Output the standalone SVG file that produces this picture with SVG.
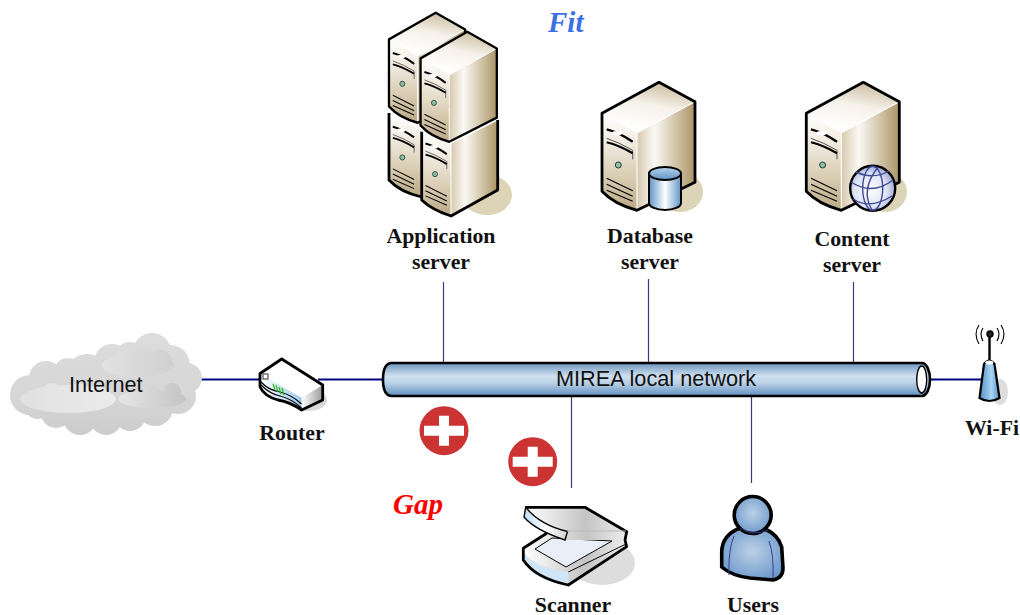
<svg xmlns="http://www.w3.org/2000/svg" width="1020" height="615" viewBox="0 0 1020 615">
<style>
.lbl{font-family:"Liberation Serif",serif;font-weight:bold;font-size:21.8px;fill:#111;text-anchor:middle}
.san{font-family:"Liberation Sans",sans-serif;font-size:21.7px;fill:#111}
.ital{font-family:"Liberation Serif",serif;font-style:italic;font-weight:bold;font-size:29px}
.trunk{stroke:#000080;stroke-width:2;fill:none}
.drop{stroke:#3a3a80;stroke-width:1.2;fill:none}
.front{fill:url(#gFront)}
.right{fill:url(#gRight)}
.top{fill:url(#gTop)}
.ol{fill:none;stroke:#000;stroke-width:2.8;stroke-linejoin:round}
.edge{fill:none;stroke:#fff;stroke-width:1.1}
.sh{fill:#ddd3b6}
.blk{fill:none;stroke:#000;stroke-width:1.2}
</style>
<defs>
<linearGradient id="gFront" x1="0" y1="0" x2="0" y2="1"><stop offset="0" stop-color="#fff"/><stop offset=".25" stop-color="#f4efe5"/><stop offset=".65" stop-color="#d9cdb4"/><stop offset="1" stop-color="#bba985"/></linearGradient>
<linearGradient id="gRight" x1="0" y1="0" x2="1" y2="0"><stop offset="0" stop-color="#d5c8ad"/><stop offset=".3" stop-color="#fbf9f5"/><stop offset=".65" stop-color="#d3c7ab"/><stop offset="1" stop-color="#ab9468"/></linearGradient>
<linearGradient id="gTop" x1=".4" y1=".9" x2=".7" y2="0"><stop offset="0" stop-color="#fff"/><stop offset=".5" stop-color="#f5f1e9"/><stop offset="1" stop-color="#c9bb9c"/></linearGradient>
<linearGradient id="gTube" x1="0" y1="0" x2="0" y2="1"><stop offset="0" stop-color="#6d96bf"/><stop offset=".4" stop-color="#cfe0ef"/><stop offset=".6" stop-color="#bcd2e6"/><stop offset="1" stop-color="#5f8fc0"/></linearGradient>
<linearGradient id="gCyl" x1="0" y1="0" x2="1" y2="0"><stop offset="0" stop-color="#5f94c6"/><stop offset=".5" stop-color="#fff"/><stop offset="1" stop-color="#5f94c6"/></linearGradient>
<linearGradient id="gCylTop" x1="0" y1="0" x2="0" y2="1"><stop offset="0" stop-color="#b9d3ea"/><stop offset="1" stop-color="#5f94c6"/></linearGradient>
<radialGradient id="gGlobe" cx=".45" cy=".55" r=".6"><stop offset="0" stop-color="#fff"/><stop offset=".6" stop-color="#dfe4f4"/><stop offset="1" stop-color="#8f9ccf"/></radialGradient>
<radialGradient id="gUser" cx=".5" cy=".45" r=".65"><stop offset="0" stop-color="#bcd0e6"/><stop offset="1" stop-color="#6594c8"/></radialGradient>
<linearGradient id="gCloud" gradientUnits="userSpaceOnUse" x1="0" y1="335" x2="0" y2="436"><stop offset="0" stop-color="#dcdcdc"/><stop offset=".6" stop-color="#d6d6d6"/><stop offset="1" stop-color="#cccccc"/></linearGradient>
<linearGradient id="gCloud2" gradientUnits="userSpaceOnUse" x1="20" y1="0" x2="118" y2="0"><stop offset="0" stop-color="#e0e0e0"/><stop offset="1" stop-color="#ebebeb"/></linearGradient>
<linearGradient id="gCloud3" gradientUnits="userSpaceOnUse" x1="118" y1="0" x2="190" y2="0"><stop offset="0" stop-color="#e6e6e6"/><stop offset="1" stop-color="#c2c2c2"/></linearGradient>
<linearGradient id="gCloud4" gradientUnits="userSpaceOnUse" x1="102" y1="0" x2="176" y2="0"><stop offset="0" stop-color="#e2e2e2"/><stop offset="1" stop-color="#cfcfcf"/></linearGradient>
<linearGradient id="gRtFront" x1="0" y1="0" x2="1" y2="0"><stop offset="0" stop-color="#fff"/><stop offset="1" stop-color="#9fc9ea"/></linearGradient>
<linearGradient id="gRtRight" x1="0" y1="0" x2="1" y2="0"><stop offset="0" stop-color="#fff"/><stop offset="1" stop-color="#9a9a9a"/></linearGradient>
<linearGradient id="gWifi" x1="0" y1="0" x2="1" y2="0"><stop offset="0" stop-color="#4f8fc9"/><stop offset=".6" stop-color="#a9d5f3"/><stop offset="1" stop-color="#4f8fc9"/></linearGradient>
<linearGradient id="gScan" x1="0" y1="0" x2="1" y2="0"><stop offset="0" stop-color="#bcdcf5"/><stop offset=".5" stop-color="#fff"/><stop offset="1" stop-color="#d0d0d0"/></linearGradient>
<linearGradient id="gScan2" x1="0" y1="0" x2="1" y2="0"><stop offset="0" stop-color="#fff"/><stop offset=".6" stop-color="#c4c4c4"/><stop offset="1" stop-color="#eee"/></linearGradient>
<g id="details">
<path d="M-52.3,47 Q-40,50 -26.3,59.4" fill="none" stroke="#000" stroke-width="2.4"/>
<ellipse cx="-42" cy="51" rx="5" ry="2.2" fill="#fff"/>
<path d="M-52.3,56 Q-40,60 -26.3,68 V77" fill="none" stroke="#555" stroke-width="1"/>
<path d="M-52.3,60 Q-40,63 -26.3,71" fill="none" stroke="#000" stroke-width="2.2"/>
<circle cx="-40.7" cy="82.7" r="3" fill="#8dc0a4" stroke="#22403a" stroke-width="1"/>
<path class="blk" d="M-52.3,96 L-26.3,108.4M-52.3,102 L-26.3,114M-52.3,108 L-26.3,119"/>
</g>
<g id="srv">
<path class="top" d="M0,0 L36,19.5 L-22,50.5 L-57,31Z"/>
<path class="front" d="M-57,31 L-22,50.5 L-22,128 Q-45,122 -57,109Z"/>
<path class="right" d="M-22,50.5 L36,19.5 L36,100 L-22,128Z"/>
<path class="edge" d="M-22,128 V50.5 L36,19.5"/>
<use href="#details"/>
<path class="ol" d="M-57,31 L0,0 L36,19.5 V100 L-22,128 Q-45,122 -57,109Z"/>
</g>
</defs>

<g id="connectors">
<path class="trunk" d="M201,379.5H262M318,379.5H384M929,379.5H984"/>
<path class="drop" d="M443.5,282V363M648.5,279V363M853.5,282V363M571.5,396V488M751.5,396V483"/>
</g>

<g id="application-server">
<ellipse class="sh" cx="487" cy="195" rx="25" ry="20"/>
<path class="front" d="M389,113 L421.7,131 V197 Q400,192 389,180Z"/>
<use href="#details" transform="translate(435.7,86.3) scale(.82,.86)"/>
<path class="ol" d="M389,113 V180 Q400,192 421.7,197"/>
<path class="front" d="M421.7,131.7 L451,143 V216 Q432,210 421.7,200Z"/>
<path class="right" d="M451,143 L497.7,120 V190 L451,216Z"/>
<path class="edge" d="M451,216V143L497.7,120"/>
<use href="#details" transform="translate(468.4,103) scale(.82,.86)"/>
<path class="ol" d="M421.7,131.7 V200 Q432,210 451,216 L497.7,190 V120"/>
<use href="#srv" transform="translate(435.7,12.7) scale(.82,.86)"/>
<use href="#srv" transform="translate(467.3,31.7) scale(.82,.86)"/>
<text class="lbl" x="441" y="243">Application</text>
<text class="lbl" x="441" y="269">server</text>
</g>

<g id="database-server">
<ellipse class="sh" cx="680" cy="192" rx="23" ry="20"/>
<use href="#srv" transform="translate(659,82.3)"/>
<path d="M649,173 V203 A16,7 0 0 0 681,203 V173Z" fill="url(#gCyl)" stroke="#000" stroke-width="2"/>
<ellipse cx="665" cy="173.5" rx="16" ry="6.5" fill="url(#gCylTop)" stroke="#000" stroke-width="2"/>
<text class="lbl" x="650" y="243">Database</text>
<text class="lbl" x="650" y="269">server</text>
</g>

<g id="content-server">
<ellipse class="sh" cx="885" cy="192" rx="22" ry="20"/>
<use href="#srv" transform="translate(863.3,82.3)"/>
<circle cx="872.7" cy="188.3" r="22.5" fill="url(#gGlobe)" stroke="#000" stroke-width="2.4"/>
<g fill="none" stroke="#3f4a96" stroke-width="1.4">
<ellipse cx="872.7" cy="188.3" rx="10" ry="22"/>
<path d="M851,182 Q872,196 893,180M856,172 Q873,180 889,171M853,199 Q870,210 892,196M878,167 Q860,190 872,210"/>
</g>
<text class="lbl" x="852" y="246">Content</text>
<text class="lbl" x="852" y="272">server</text>
</g>

<g id="internet">
<g fill="url(#gCloud)">
<circle cx="30" cy="395" r="20"/><circle cx="46" cy="378" r="17"/><circle cx="87" cy="376" r="22"/><circle cx="68" cy="372" r="14"/>
<circle cx="112" cy="362" r="18"/><circle cx="130" cy="358" r="16"/><circle cx="152" cy="352" r="19"/><circle cx="170" cy="365" r="20"/>
<circle cx="187" cy="378" r="15"/><circle cx="178" cy="396" r="18"/><circle cx="155" cy="408" r="18"/><circle cx="130" cy="415" r="16"/>
<circle cx="106" cy="419" r="16"/><circle cx="80" cy="418" r="17"/><circle cx="56" cy="413" r="15"/><circle cx="38" cy="405" r="14"/>
<rect x="40" y="370" width="130" height="45"/>
</g>
<g fill="url(#gCloud2)">
<ellipse cx="68" cy="399" rx="48" ry="14"/><circle cx="52" cy="393" r="10"/><circle cx="78" cy="391" r="8"/><circle cx="96" cy="396" r="11"/>
</g>
<g fill="url(#gCloud4)">
<ellipse cx="138" cy="365" rx="36" ry="12"/><circle cx="124" cy="358" r="9"/><circle cx="148" cy="358" r="9"/><circle cx="160" cy="362" r="12"/><circle cx="130" cy="370" r="8"/>
</g>
<g fill="url(#gCloud3)">
<ellipse cx="152" cy="399" rx="34" ry="9"/><circle cx="172" cy="392" r="9"/><circle cx="152" cy="394" r="8"/>
</g>
<text class="san" x="69" y="392">Internet</text>
</g>

<g id="router">
<ellipse cx="309" cy="400" rx="18" ry="11" fill="#d9d9d9"/>
<path d="M260,373.5 L281.7,359 L322.7,385 L301.7,398Z" fill="#fff"/>
<path d="M260,373.5 L301.7,398 V410 Q290,402 278,400 Q264,396 260,386.7Z" fill="url(#gRtFront)"/>
<path d="M301.7,398 L322.7,385 V400 L301.7,410Z" fill="url(#gRtRight)"/>
<path d="M261,382 Q268,390 280,392 Q292,395 301.5,404M261,385 Q270,394 280,396 Q292,399 301.5,408" fill="none" stroke="#000" stroke-width="1.2"/>
<rect x="263" y="374" width="5" height="5" fill="#fff" stroke="#333" stroke-width="1"/>
<path d="M273,384l2,6M276,385l2,7M279,387l2,7M282,388l2,7" stroke="#22bb22" stroke-width="1.2" fill="none"/>
<path class="ol" d="M260,373.5 L281.7,359 L322.7,385 V400 L301.7,410 Q290,402 278,400 Q264,396 260,386.7Z"/>
<text class="lbl" x="292" y="440">Router</text>
</g>

<g id="network">
<path d="M392,363 H922 A8,16.5 0 0 1 922,396 H392 Q383,396 383,379.5 Q383,363 392,363Z" fill="url(#gTube)" stroke="#000" stroke-width="2.6"/>
<ellipse cx="921.7" cy="379.5" rx="5" ry="13.5" fill="#fff" stroke="#000" stroke-width="1.4"/>
<text class="san" x="556" y="386">MIREA local network</text>
</g>

<g id="wifi">
<ellipse cx="1000" cy="392" rx="8" ry="13" fill="#ddd"/>
<path d="M984,364 Q989.3,357 994.5,364 L999.5,398 Q989.3,404 979.5,398Z" fill="url(#gWifi)" stroke="#000" stroke-width="2.2"/>
<ellipse cx="989.3" cy="362.5" rx="4" ry="2" fill="#fff"/>
<path d="M989.5,335V360" stroke="#000" stroke-width="2.4"/>
<circle cx="990" cy="334" r="3" fill="#222" stroke="#000" stroke-width="1.4"/>
<path d="M983,328 Q979,334 983,341M997,328 Q1001,334 997,341M979,325 Q973,334 979,344M1001,325 Q1007,334 1001,344" fill="none" stroke="#000" stroke-width="1.1"/>
<text class="lbl" x="992" y="435">Wi-Fi</text>
</g>

<g id="gap-markers">
<circle cx="444" cy="430.7" r="24.5" fill="#cc3333"/>
<path d="M439,415.7h10v10h15v10h-15v10h-10v-10h-15v-10h15Z" fill="#fff"/>
<circle cx="532.7" cy="461.7" r="24.5" fill="#cc3333"/>
<path d="M527.7,446.7h10v10h15v10h-15v10h-10v-10h-15v-10h15Z" fill="#fff"/>
</g>

<text class="ital" x="548" y="32" fill="#3b6fe8">Fit</text>
<text class="ital" x="393" y="514" fill="#ff0000">Gap</text>

<g id="scanner">
<ellipse cx="602" cy="563" rx="33" ry="22" fill="#dddddd"/>
<path d="M523.3,548.3 L546.7,533.3 L625,540 L626.7,546.7 L568.3,585 Q535,578 523.3,560Z" fill="url(#gScan2)"/>
<path d="M523.3,552 Q535,568 568.3,572 V585 Q535,578 523.3,560Z" fill="#cfe6f8"/>
<path d="M535,549 L552,538 L612,541 L566,567Z" fill="#e9eef8" stroke="#000" stroke-width="1"/>
<path d="M568.3,572 L626,544" fill="none" stroke="#000" stroke-width="1"/>
<path class="ol" d="M546.7,533.3 L523.3,548.3 V560 Q535,578 568.3,585 L626.7,546.7 L625,540"/>
<path d="M525.7,507.3 H585 L626.7,531.7 L625,540 H567 L525,517Z" fill="url(#gScan2)"/>
<path d="M525.7,507.3 Q540,525 567.5,531.5 L565,540 Q535,530 524,517Z" fill="url(#gScan)" stroke="#000" stroke-width="1.4"/>
<path class="ol" d="M525.7,507.3 H585 L626.7,531.7 L625,540"/>
<path d="M567,531 H626" stroke="#bbb" stroke-width="1" fill="none"/>
<text class="lbl" x="573" y="612">Scanner</text>
</g>

<g id="users">
<path d="M740,528 Q722,535 721.7,552 L721.7,567 Q732,576 750,578 L773,580 Q783,578 783,568 L781.7,547 Q778,535 767,530Z" fill="url(#gUser)" stroke="#000" stroke-width="3.6" stroke-linejoin="round"/>
<circle cx="752.7" cy="515" r="18.5" fill="url(#gUser)" stroke="#000" stroke-width="3.6"/>
<path d="M740,528 Q752,537 768,530" fill="none" stroke="#3a3a90" stroke-width="1"/>
<path d="M734,536 Q728,550 729,575M769,541 Q774,555 773,578" fill="none" stroke="#3a3a90" stroke-width="1"/>
<text class="lbl" x="753" y="612">Users</text>
</g>
</svg>
